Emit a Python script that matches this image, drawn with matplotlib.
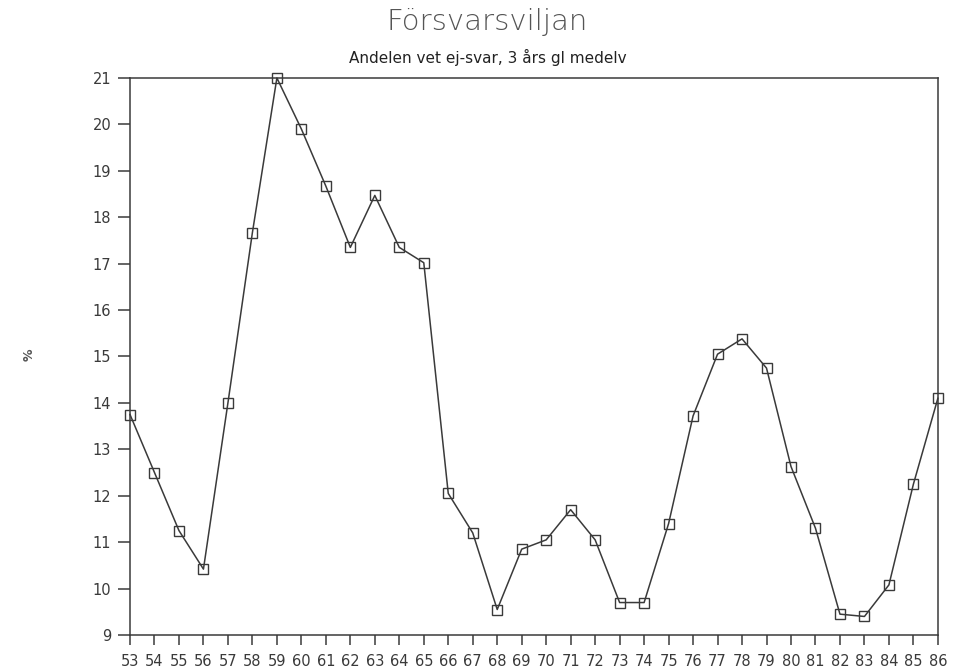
""" Forsvarsviljan """

import matplotlib
matplotlib.use("Agg")
import matplotlib.pyplot as plt

years = list(range(53, 87))
andel = [
    13.75, 12.5, 11.25, 10.42, 14.0, 17.67, 21.0, 19.9, 18.67, 17.35,
    18.47, 17.35, 17.02, 12.05, 11.2, 9.55, 10.85, 11.05, 11.7, 11.05,
    9.7, 9.7, 11.4, 13.72, 15.05, 15.38, 14.75, 12.63, 11.3, 9.45,
    9.4, 10.08, 12.25, 14.1,
]
yticks = list(range(9, 22))

INK = "#3a3a3a"
plt.rcParams["font.family"] = ["DejaVu Sans"]

fig = plt.figure(figsize=(9.58, 6.72), dpi=100)
ax = fig.add_axes([0.1357, 0.055, 0.8433, 0.829])

ax.plot(years, andel, color=INK, linewidth=1.1, marker="s",
        markersize=7.5, markerfacecolor="none", markeredgecolor=INK,
        markeredgewidth=1.0, clip_on=False)

ax.set_xlim(53, 86)
ax.set_ylim(9, 21)
ax.set_xticks(years)
ax.set_xticklabels([str(y) for y in years], fontsize=10.5, color=INK)
ax.set_yticks(yticks)
ax.set_yticklabels([str(t) for t in yticks], fontsize=10.5, color=INK)
ax.tick_params(axis="y", direction="out", length=8.5, width=1.1,
               color=INK, pad=5)
ax.tick_params(axis="x", direction="out", length=7, width=1.1,
               color=INK, pad=7)
for spine in ax.spines.values():
    spine.set_color(INK)
    spine.set_linewidth(1.1)

fig.text(0.509, 0.968, "Försvarsviljan", ha="center", va="center",
         fontsize=21, color="#555555", fontweight="light")
fig.text(0.509, 0.914, "Andelen vet ej-svar, 3 års gl medelv",
         ha="center", va="center", fontsize=11, color="#222222")
fig.text(0.03, 1 - 355 / 672, "%", rotation=90, ha="center",
         va="center", fontsize=9, color="#555555", fontweight="bold")

fig.savefig("out.png", dpi=100)
